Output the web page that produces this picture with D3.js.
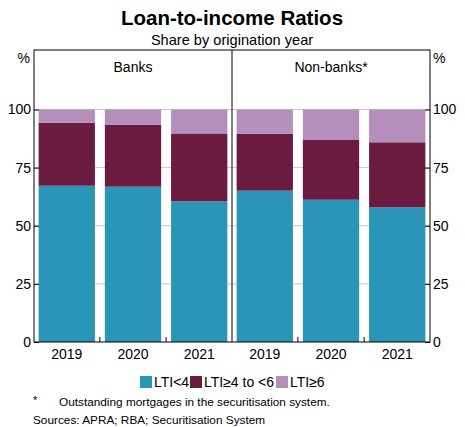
<!DOCTYPE html>
<html><head><meta charset="utf-8">
<script src="https://cdn.jsdelivr.net/npm/d3@7"></script>
<style>body{margin:0;background:#fff;} text{font-family:Arial,"Liberation Sans",sans-serif;fill:#000;}</style>
</head><body><svg id="c" width="465" height="427"></svg>
<script>
const years = ["2019","2020","2021"];
const panels = ["Banks","Non-banks*"];
const seriesNames = ["LTI<4","LTI≥4 to <6","LTI≥6"];
const colors = ["#2a95b6","#6b1a40","#b48fbb"];
const banksLow = [67.2, 66.8, 60.5];
const banksMid = [27.1, 26.6, 29.2];
const banksHigh = [5.7, 6.6, 10.3];
const nonbanksLow = [65.1, 61.2, 57.9];
const nonbanksMid = [24.5, 25.9, 28.0];
const nonbanksHigh = [10.4, 12.9, 14.1];
const yTicks = [0, 25, 50, 75, 100];

const svg = d3.select("#c");
const L = 34, R = 430, T = 50, B = 342, mid = 232;
const y = d3.scaleLinear().domain([0, 100]).range([B, 109.5]);
const panelData = [
  {name: panels[0], x0: L, x1: mid, vals: [banksLow, banksMid, banksHigh]},
  {name: panels[1], x0: mid, x1: R, vals: [nonbanksLow, nonbanksMid, nonbanksHigh]}
];

// gridlines
svg.append("g").selectAll("line").data(yTicks.filter(d => d > 0)).join("line")
  .attr("x1", L).attr("x2", R).attr("y1", d => y(d)).attr("y2", d => y(d))
  .attr("stroke", "#c8c8c8").attr("stroke-width", 1);

panelData.forEach(p => {
  const x = d3.scaleBand().domain(years).range([p.x0, p.x1]).paddingInner(0.15).paddingOuter(0.07);
  const rows = years.map((yr, i) => ({year: yr, a: p.vals[0][i], b: p.vals[1][i], c: p.vals[2][i]}));
  const stack = d3.stack().keys(["a","b","c"])(rows);
  stack.forEach((s, si) => {
    svg.append("g").selectAll("rect").data(s).join("rect")
      .attr("x", d => x(d.data.year)).attr("width", x.bandwidth())
      .attr("y", d => y(d[1])).attr("height", d => y(d[0]) - y(d[1]))
      .attr("fill", colors[si]);
  });
  svg.append("g").selectAll("text").data(years).join("text")
    .attr("x", d => x(d) + x.bandwidth() / 2).attr("y", B + 17)
    .attr("text-anchor", "middle").attr("font-size", 14).text(d => d);
  const bw = x.step();
  svg.append("g").selectAll("line").data(years.slice(1)).join("line")
    .attr("x1", d => x(d) - (bw - x.bandwidth()) / 2).attr("x2", d => x(d) - (bw - x.bandwidth()) / 2)
    .attr("y1", B).attr("y2", B - 5).attr("stroke", "#000");
  svg.append("text").attr("x", (p.x0 + p.x1) / 2).attr("y", 72)
    .attr("text-anchor", "middle").attr("font-size", 14).text(p.name);
});

// frame
svg.append("rect").attr("x", L).attr("y", T).attr("width", R - L).attr("height", B - T)
  .attr("fill", "none").attr("stroke", "#000").attr("stroke-width", 1);
svg.append("line").attr("x1", mid).attr("x2", mid).attr("y1", T).attr("y2", B).attr("stroke", "#000");

// y axes
const yl = d3.axisLeft(y).tickValues(yTicks).tickSize(5).tickPadding(3);
const yr = d3.axisRight(y).tickValues(yTicks).tickSize(5).tickPadding(3);
const gl = svg.append("g").attr("transform", `translate(${L},0)`).call(yl);
const gr = svg.append("g").attr("transform", `translate(${R},0)`).call(yr);
[gl, gr].forEach(g => {
  g.select(".domain").remove();
  g.selectAll(".tick line").attr("x2", function(){ return +d3.select(this).attr("x2") < 0 ? 5 : -5; });
  g.selectAll("text").attr("font-size", 14).attr("font-family", "Arial,'Liberation Sans',sans-serif").attr("fill", "#000");
});
gl.selectAll(".tick text").attr("x", -3);
gr.selectAll(".tick text").attr("x", 3);
svg.append("text").attr("x", L - 4).attr("y", 63).attr("text-anchor", "end").attr("font-size", 14).text("%");
svg.append("text").attr("x", R + 3).attr("y", 63).attr("font-size", 14).text("%");

// titles
svg.append("text").attr("x", 232).attr("y", 25).attr("text-anchor", "middle")
  .attr("font-size", 20.5).attr("font-weight", "bold").text("Loan-to-income Ratios");
svg.append("text").attr("x", 232).attr("y", 45).attr("text-anchor", "middle")
  .attr("font-size", 14.6).text("Share by origination year");

// legend
const legX = [140, 190, 276];
const lg = svg.append("g");
seriesNames.forEach((n, i) => {
  lg.append("rect").attr("x", legX[i]).attr("y", 376).attr("width", 12).attr("height", 12).attr("fill", colors[i]);
  lg.append("text").attr("x", legX[i] + 14).attr("y", 387).attr("font-size", 14).text(n);
});

// footnotes
svg.append("text").attr("x", 33).attr("y", 404).attr("font-size", 11).text("*");
svg.append("text").attr("x", 59).attr("y", 406).attr("font-size", 11.8).text("Outstanding mortgages in the securitisation system.");
svg.append("text").attr("x", 33).attr("y", 424).attr("font-size", 11.8).text("Sources: APRA; RBA; Securitisation System");
</script></body></html>
